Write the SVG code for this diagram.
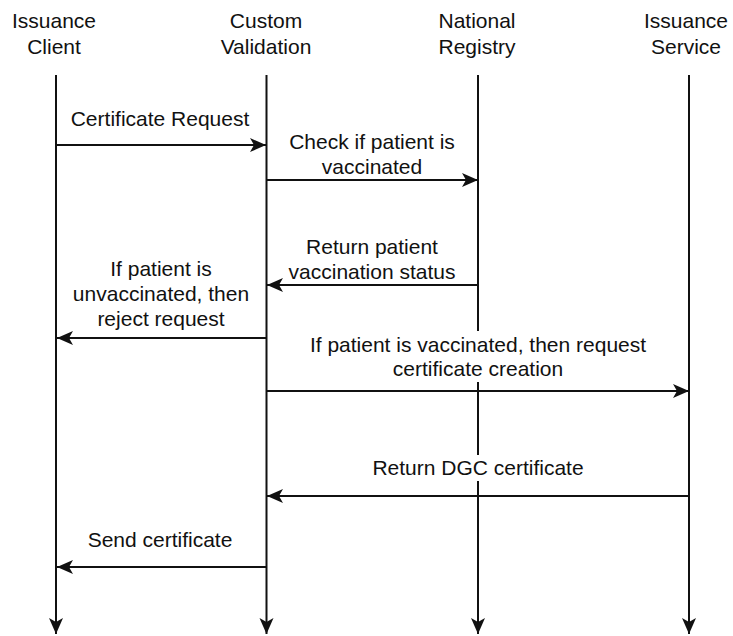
<svg xmlns="http://www.w3.org/2000/svg" width="733" height="636" viewBox="0 0 733 636">
<style>
text{font-family:"Liberation Sans",Arial,Helvetica,sans-serif;font-size:21px;fill:#111;text-anchor:middle}
.l{stroke:#111;stroke-width:2;fill:none}
.bg{fill:#fff}
</style>
<defs>
<marker id="ah" markerUnits="userSpaceOnUse" markerWidth="18" markerHeight="16" refX="16" refY="8" orient="auto" viewBox="0 0 18 16">
<path d="M16,8 L0,1 L4,8 L0,15 Z" fill="#111"/>
</marker>
</defs>
<rect width="733" height="636" fill="#fff"/>
<g id="lifelines">
<g id="issuance-client"><text x="54" y="28">Issuance</text><text x="54" y="54">Client</text></g>
<g id="custom-validation"><text x="266" y="28">Custom</text><text x="266" y="54">Validation</text></g>
<g id="national-registry"><text x="477" y="28">National</text><text x="477" y="54">Registry</text></g>
<g id="issuance-service"><text x="686" y="28">Issuance</text><text x="686" y="54">Service</text></g>
</g>
<g id="connectors">
<line class="l" x1="56" y1="75" x2="56" y2="634" marker-end="url(#ah)"/>
<line class="l" x1="266.5" y1="75" x2="266.5" y2="634" marker-end="url(#ah)"/>
<line class="l" x1="478" y1="75" x2="478" y2="634" marker-end="url(#ah)"/>
<line class="l" x1="689" y1="75" x2="689" y2="634" marker-end="url(#ah)"/>
<line class="l" x1="56" y1="145" x2="266" y2="145" marker-end="url(#ah)"/>
<line class="l" x1="266.5" y1="180" x2="478" y2="180" marker-end="url(#ah)"/>
<line class="l" x1="478" y1="285" x2="267" y2="285" marker-end="url(#ah)"/>
<line class="l" x1="266.5" y1="338" x2="57" y2="338" marker-end="url(#ah)"/>
<line class="l" x1="266.5" y1="391" x2="689" y2="391" marker-end="url(#ah)"/>
<line class="l" x1="689" y1="496" x2="267" y2="496" marker-end="url(#ah)"/>
<line class="l" x1="266.5" y1="567" x2="57" y2="567" marker-end="url(#ah)"/>
</g>
<g id="label-certificate-request"><text x="160" y="126">Certificate Request</text></g>
<g id="label-check"><text x="372" y="149">Check if patient is</text><text x="372" y="174">vaccinated</text></g>
<g id="label-return-status"><text x="372" y="254">Return patient</text><text x="372" y="279">vaccination status</text></g>
<g id="label-reject"><text x="161" y="276">If patient is</text><text x="161" y="301">unvaccinated, then</text><text x="161" y="326">reject request</text></g>
<g id="label-request-creation"><rect class="bg" x="306" y="331" width="344" height="51"/><text x="478" y="352">If patient is vaccinated, then request</text><text x="478" y="376">certificate creation</text></g>
<g id="label-return-dgc"><rect class="bg" x="370" y="455" width="216" height="26"/><text x="478" y="475">Return DGC certificate</text></g>
<g id="label-send"><text x="160" y="547">Send certificate</text></g>
</svg>
